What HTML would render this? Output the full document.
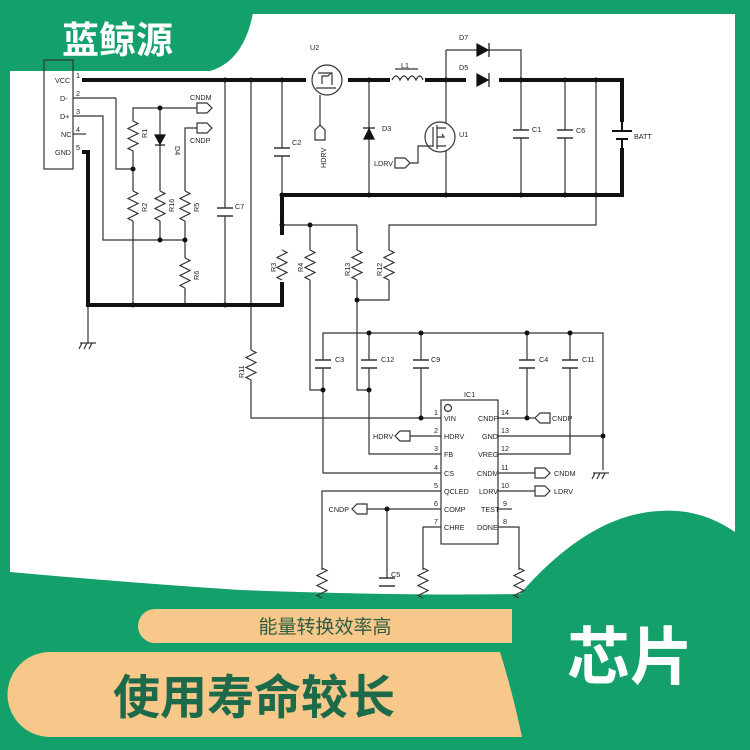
<!DOCTYPE html>
<html><head><meta charset="utf-8"><style>
html,body{margin:0;padding:0;background:#13a06b;}
#c{position:relative;width:750px;height:750px;overflow:hidden;background:#13a06b;}
svg{position:absolute;left:0;top:0;}
.t{font-family:"Liberation Sans",sans-serif;font-size:7.2px;fill:#222;}
</style></head><body><div id="c">
<svg width="750" height="750" viewBox="0 0 750 750">
<defs>
<path id="rz" d="M0,0 l5,2.5 -10,5 10,5 -10,5 10,5 -10,5 5,2.5" fill="none" stroke="#333" stroke-width="1.2"/>
<g id="cap"><line x1="-8" y1="0" x2="8" y2="0" stroke="#333" stroke-width="1.5"/><line x1="-8" y1="8" x2="8" y2="8" stroke="#333" stroke-width="1.5"/></g>
<path id="tagR" d="M0,-5 h10 l5,5 -5,5 h-10z" fill="#fff" stroke="#333" stroke-width="1.2"/>
<path id="tagL" d="M15,-5 h-10 l-5,5 5,5 h10z" fill="#fff" stroke="#333" stroke-width="1.2"/>
</defs>
<path d="M14,14 H735 V532 Q700,508 660,511 Q590,514 520,594 Q400,596 240,590 Q120,582 10,572 V14Z" fill="#fff"/>
<path d="M0,0 H255 Q248,60 210,71 H0Z" fill="#13a06b"/>
<text x="62" y="53" font-family="Liberation Sans,'Noto Sans CJK SC',sans-serif" font-size="37" font-weight="bold" fill="#fff">蓝鲸源</text>

<g stroke="#333" stroke-width="1.2" fill="none">
<rect x="44" y="60" width="29" height="109"/>
<line x1="73" y1="98" x2="116" y2="98"/><polyline points="116,98 116,169 133,169"/>
<polyline points="73,116 103,116 103,240 185,240"/>
<line x1="73" y1="134" x2="86" y2="134"/>
<polyline points="133,121 133,108 197,108"/>
<line x1="133" y1="151" x2="133" y2="191"/>
<line x1="133" y1="221" x2="133" y2="305"/>
<line x1="160" y1="108" x2="160" y2="191"/><line x1="160" y1="221" x2="160" y2="240"/>
<polyline points="197,128 185,128 185,191"/><line x1="185" y1="221" x2="185" y2="258"/><line x1="185" y1="288" x2="185" y2="305"/>
<line x1="225" y1="80" x2="225" y2="208"/><line x1="225" y1="216" x2="225" y2="305"/>
<line x1="251" y1="80" x2="251" y2="350"/><polyline points="251,380 251,418 441,418"/>
<line x1="282" y1="80" x2="282" y2="148"/><line x1="282" y1="156" x2="282" y2="195"/>
<line x1="320" y1="95" x2="320" y2="125"/>
<line x1="369" y1="80" x2="369" y2="195"/>
<line x1="446" y1="50" x2="446" y2="195"/>
<polyline points="446,50 521,50 521,80"/>
<line x1="521" y1="80" x2="521" y2="130"/><line x1="521" y1="138" x2="521" y2="195"/>
<line x1="565" y1="80" x2="565" y2="130"/><line x1="565" y1="138" x2="565" y2="195"/>
<polyline points="596,80 596,225 389,225 389,250"/>
<polyline points="389,280 389,300 357,300"/>
<line x1="282" y1="225" x2="357" y2="225"/>
<line x1="310" y1="225" x2="310" y2="250"/><polyline points="310,280 310,390 323,390"/>
<line x1="357" y1="225" x2="357" y2="250"/><polyline points="357,280 357,390 369,390"/>
<polyline points="323,360 323,333 603,333 603,470"/>
<line x1="369" y1="333" x2="369" y2="360"/><line x1="421" y1="333" x2="421" y2="360"/>
<line x1="527" y1="333" x2="527" y2="360"/><line x1="570" y1="333" x2="570" y2="360"/>
<polyline points="323,368 323,473 441,473"/>
<polyline points="369,368 369,454 441,454"/>
<line x1="421" y1="368" x2="421" y2="418"/>
<polyline points="527,368 527,418 498,418"/><line x1="527" y1="418" x2="535" y2="418"/>
<polyline points="570,368 570,454 498,454"/>
<line x1="498" y1="436" x2="603" y2="436"/>
<line x1="410" y1="436" x2="441" y2="436"/>
<line x1="498" y1="473" x2="535" y2="473"/><line x1="498" y1="491" x2="535" y2="491"/>
<line x1="498" y1="509" x2="512" y2="509"/>
<polyline points="441,491 322,491 322,570"/>
<polyline points="367,509 441,509"/><line x1="387" y1="509" x2="387" y2="578"/>
<polyline points="441,527 423,527 423,570"/>
<polyline points="498,527 519,527 519,570"/>
<rect x="441" y="400" width="57" height="144"/>
<circle cx="448" cy="408" r="3.5"/>
<line x1="88" y1="305" x2="88" y2="343"/>
<line x1="80" y1="343" x2="96" y2="343"/><line x1="82" y1="343" x2="79" y2="349"/><line x1="87" y1="343" x2="84" y2="349"/><line x1="92" y1="343" x2="89" y2="349"/>
<line x1="593" y1="473" x2="609" y2="473"/><line x1="595" y1="473" x2="592" y2="479"/><line x1="600" y1="473" x2="597" y2="479"/><line x1="605" y1="473" x2="602" y2="479"/>
<circle cx="327" cy="80" r="15" fill="#fff"/>
<path d="M318,73 h14 v12 M316,88 h20 M322,84 v-8 h6 l3,-3" />
<circle cx="440" cy="137" r="15" fill="#fff"/>
<path d="M433,127 v20 M437,125 v24 M437,128 h9 M437,146 h9 M437,137 h7 l-2,-3"/>
<polyline points="410,163 418,163 418,146 433,146"/>
<path d="M392,80 q4,-8 8,0 q4,-8 8,0 q4,-8 8,0 q4,-8 7,0" />
<line x1="395" y1="69" x2="418" y2="69"/>
</g>
<g stroke="#111" stroke-width="4" fill="none">
<line x1="82" y1="80" x2="306" y2="80"/><line x1="348" y1="80" x2="390" y2="80"/>
<line x1="425" y1="80" x2="466" y2="80"/><polyline points="499,80 622,80 622,122"/>
<polyline points="622,148 622,195 282,195 282,235"/>
<polyline points="282,282 282,305 88,305 88,152 82,152"/>
</g>
<line x1="612" y1="131" x2="632" y2="131" stroke="#111" stroke-width="2"/>
<line x1="616" y1="139" x2="628" y2="139" stroke="#111" stroke-width="2"/>
<line x1="622" y1="122" x2="622" y2="131" stroke="#111" stroke-width="2"/>
<line x1="622" y1="139" x2="622" y2="148" stroke="#111" stroke-width="2"/>
<use href="#rz" x="133" y="121"/><use href="#rz" x="133" y="191"/><use href="#rz" x="160" y="191"/>
<use href="#rz" x="185" y="191"/><use href="#rz" x="185" y="258"/>
<use href="#rz" x="282" y="250"/><use href="#rz" x="310" y="250"/><use href="#rz" x="357" y="250"/><use href="#rz" x="389" y="250"/>
<use href="#rz" x="251" y="350"/>
<use href="#rz" x="322" y="568"/><use href="#rz" x="423" y="568"/><use href="#rz" x="519" y="568"/>
<use href="#cap" x="225" y="208"/><use href="#cap" x="282" y="148"/><use href="#cap" x="521" y="130"/><use href="#cap" x="565" y="130"/>
<use href="#cap" x="323" y="360"/><use href="#cap" x="369" y="360"/><use href="#cap" x="421" y="360"/><use href="#cap" x="527" y="360"/><use href="#cap" x="570" y="360"/>
<use href="#cap" x="387" y="578"/>
<g fill="#111" stroke="#111" stroke-width="1.2">
<path d="M155,135 h10 l-5,9z"/><line x1="155" y1="145" x2="165" y2="145"/>
<path d="M364,139 h10 l-5,-10z"/><line x1="363" y1="128" x2="375" y2="128"/>
<path d="M477,44 v12 l11,-6z"/><line x1="489" y1="43" x2="489" y2="57"/>
<path d="M477,74 v12 l11,-6z"/><line x1="489" y1="73" x2="489" y2="87"/>
</g>
<use href="#tagR" x="197" y="108"/><use href="#tagR" x="197" y="128"/>
<use href="#tagR" x="395" y="163"/>
<path d="M315,140 v-10 l5,-5 5,5 v10z" fill="#fff" stroke="#333" stroke-width="1.2"/>
<use href="#tagL" x="535" y="418"/><use href="#tagL" x="395" y="436"/><use href="#tagL" x="352" y="509"/>
<use href="#tagR" x="535" y="473"/><use href="#tagR" x="535" y="491"/>
<g fill="#111">
<circle cx="225" cy="80" r="2.5"/><circle cx="251" cy="80" r="2.5"/><circle cx="282" cy="80" r="2.5"/><circle cx="369" cy="80" r="2.5"/><circle cx="446" cy="80" r="2.5"/><circle cx="521" cy="80" r="2.5"/><circle cx="565" cy="80" r="2.5"/><circle cx="596" cy="80" r="2.5"/>
<circle cx="282" cy="195" r="2.5"/><circle cx="369" cy="195" r="2.5"/><circle cx="446" cy="195" r="2.5"/><circle cx="521" cy="195" r="2.5"/><circle cx="565" cy="195" r="2.5"/><circle cx="596" cy="195" r="2.5"/>
<circle cx="160" cy="108" r="2.5"/><circle cx="133" cy="169" r="2.5"/><circle cx="160" cy="240" r="2.5"/><circle cx="185" cy="240" r="2.5"/>
<circle cx="133" cy="305" r="2.5"/><circle cx="225" cy="305" r="2.5"/><circle cx="282" cy="225" r="2.5"/><circle cx="310" cy="225" r="2.5"/><circle cx="357" cy="300" r="2.5"/>
<circle cx="323" cy="390" r="2.5"/><circle cx="369" cy="390" r="2.5"/><circle cx="369" cy="333" r="2.5"/><circle cx="421" cy="333" r="2.5"/><circle cx="527" cy="333" r="2.5"/><circle cx="570" cy="333" r="2.5"/>
<circle cx="421" cy="418" r="2.5"/><circle cx="527" cy="418" r="2.5"/><circle cx="603" cy="436" r="2.5"/><circle cx="387" cy="509" r="2.5"/>
</g>
<g class="t">
<text x="55" y="83">VCC</text><text x="60" y="101">D-</text><text x="60" y="119">D+</text><text x="61" y="137">NC</text><text x="55" y="155">GND</text>
<text x="76" y="78">1</text><text x="76" y="96">2</text><text x="76" y="114">3</text><text x="76" y="132">4</text><text x="76" y="150">5</text>
<text x="190" y="100">CNDM</text><text x="190" y="143">CNDP</text>
<text x="310" y="50">U2</text><text x="401" y="68">L1</text><text x="459" y="40">D7</text><text x="459" y="70">D5</text>
<text x="382" y="131">D3</text><text x="459" y="137">U1</text><text x="374" y="166">LDRV</text>
<text x="532" y="132">C1</text><text x="576" y="133">C6</text><text x="634" y="139">BATT</text>
<text x="292" y="145">C2</text><text x="235" y="209">C7</text>
<text x="335" y="362">C3</text><text x="381" y="362">C12</text><text x="431" y="362">C9</text><text x="539" y="362">C4</text><text x="582" y="362">C11</text>
<text x="464" y="397">IC1</text>
<text x="444" y="421">VIN</text><text x="444" y="439">HDRV</text><text x="444" y="457">FB</text><text x="444" y="476">CS</text><text x="444" y="494">QCLED</text><text x="444" y="512">COMP</text><text x="444" y="530">CHRE</text>
<text x="478" y="421">CNDP</text><text x="482" y="439">GND</text><text x="478" y="457">VREG</text><text x="477" y="476">CNDM</text><text x="479" y="494">LDRV</text><text x="481" y="512">TEST</text><text x="477" y="530">DONE</text>
<text x="434" y="415">1</text><text x="434" y="433">2</text><text x="434" y="451">3</text><text x="434" y="470">4</text><text x="434" y="488">5</text><text x="434" y="506">6</text><text x="434" y="524">7</text>
<text x="501" y="415">14</text><text x="501" y="433">13</text><text x="501" y="451">12</text><text x="501" y="470">11</text><text x="501" y="488">10</text><text x="503" y="506">9</text><text x="503" y="524">8</text>
<text x="552" y="421">CNDP</text><text x="373" y="439">HDRV</text><text x="554" y="476">CNDM</text><text x="554" y="494">LDRV</text><text x="349" y="512" text-anchor="end">CNDP</text>
<text x="391" y="577">C5</text>
<text transform="translate(147,138) rotate(-90)">R1</text><text transform="translate(175,146) rotate(90)">D4</text>
<text transform="translate(147,212) rotate(-90)">R2</text><text transform="translate(174,212) rotate(-90)">R16</text><text transform="translate(199,212) rotate(-90)">R5</text><text transform="translate(199,280) rotate(-90)">R6</text>
<text transform="translate(276,272) rotate(-90)">R3</text><text transform="translate(303,272) rotate(-90)">R4</text><text transform="translate(350,276) rotate(-90)">R13</text><text transform="translate(382,276) rotate(-90)">R12</text>
<text transform="translate(244,378) rotate(-90)">R11</text><text transform="translate(326,168) rotate(-90)">HDRV</text>
</g>
<path d="M155,609 H512 V643 H155 A17,17 0 0 1 155,609Z" fill="#f8c78a"/>
<path d="M50,652 H500 Q512,690 522,737 H50 A42.5,42.5 0 0 1 50,652Z" fill="#f8c78a"/>
<text x="325" y="633" text-anchor="middle" font-family="Liberation Sans,'Noto Sans CJK SC',sans-serif" font-size="19" fill="#2d5e44">能量转换效率高</text>
<text x="254" y="714" text-anchor="middle" font-family="Liberation Sans,'Noto Sans CJK SC',sans-serif" font-size="47" font-weight="bold" fill="#1d6a4b">使用寿命较长</text>
<text x="630" y="679" text-anchor="middle" font-family="Liberation Sans,'Noto Sans CJK SC',sans-serif" font-size="63" font-weight="bold" fill="#fff">芯片</text>
</svg>
</div></body></html>
